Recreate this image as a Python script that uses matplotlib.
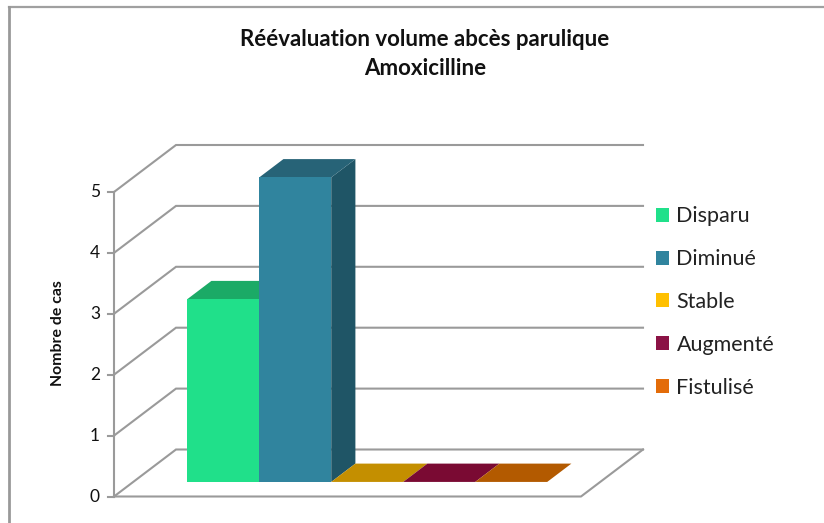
import matplotlib
matplotlib.use("Agg")
import matplotlib.pyplot as plt
from matplotlib.lines import Line2D
from matplotlib.patches import Polygon, Rectangle

title_lines = ["Réévaluation volume abcès parulique", "Amoxicilline"]
categories = ["Disparu", "Diminué", "Stable", "Augmenté", "Fistulisé"]
values = [3, 5, 0, 0, 0]
yticks = [0, 1, 2, 3, 4, 5]
ylabel = "Nombre de cas"
front_colors = ["#20E08A", "#30849E", "#FFC000", "#8B1245", "#E36C09"]
top_colors = ["#1BAA66", "#276377", "#C48F00", "#7A0A33", "#B35A00"]
side_colors = ["#179A5E", "#1F5566", "#A87A00", "#640828", "#964B00"]

W, H = 824, 523
plt.rcParams["font.family"] = ["Lato", "DejaVu Sans"]
fig = plt.figure(figsize=(W / 100, H / 100), dpi=100, facecolor="white")

# front plane of the pseudo-3D box, in pixels
L, R, Y0, Y5 = 114.0, 581.0, 496.5, 192.0
ax = fig.add_axes([L / W, 1 - Y0 / H, (R - L) / W, (Y0 - Y5) / H])
PX_X = 72.0                     # px per category
PX_Y = (Y0 - Y5) / 5            # px per unit
ax.set_xlim(0, (R - L) / PX_X)
ax.set_ylim(0, 5)
ax.axis("off")

DX, DY = 62.0 / PX_X, 47.0 / PX_Y   # data offset of the full depth


def p(x, y, d=0.0):
    return (x + d * DX, y + d * DY)


GRID = "#9A9A9A"
xmax = ax.get_xlim()[1]
for v in yticks:
    pts = [p(0, v), p(0, v, 1), p(xmax, v, 1)]
    ax.plot(*zip(*pts), color=GRID, lw=1.5, clip_on=False, zorder=1, solid_joinstyle="miter")
    ax.plot([-6 / PX_X, 0], [v, v], color=GRID, lw=1.5, clip_on=False, zorder=1)
    ax.text(-14 / PX_X, v, str(v), ha="right", va="center", fontsize=12.5,
            color="#111111", clip_on=False)
ax.plot([0, 0], [0, 5], color=GRID, lw=1.5, clip_on=False, zorder=1)
ax.plot(*zip(p(0, 0), p(xmax, 0), p(xmax, 0, 1)), color=GRID, lw=1.5, clip_on=False, zorder=1)

# bars
D0, D1 = 0.31, 0.70
X0 = 0.75
handles = []
for i, (c, v) in enumerate(zip(categories, values)):
    x0, x1 = X0 + i, X0 + i + 1
    xa, ya = p(x0, 0, D0)
    xb, _ = p(x1, 0, D0)
    if v > 0:
        ax.add_patch(Polygon([p(x1, 0, D0), p(x1, 0, D1), p(x1, v, D1), p(x1, v, D0)],
                             closed=True, fc=side_colors[i], ec="none", zorder=3 + i, clip_on=False))
    ax.add_patch(Polygon([p(x0, v, D0), p(x1, v, D0), p(x1, v, D1), p(x0, v, D1)],
                         closed=True, fc=top_colors[i], ec="none", zorder=3 + i, clip_on=False))
    ax.bar(xa, v, width=xb - xa, bottom=ya, align="edge", color=front_colors[i],
           lw=0, zorder=3 + i, clip_on=False)
    handles.append(Rectangle((0, 0), 1, 1, fc=front_colors[i], ec="none"))

fig.legend(handles, categories, loc="center left",
           bbox_to_anchor=(656 / W, 1 - 302 / H), frameon=False, fontsize=15.5,
           labelcolor="#222222", handlelength=0.62, handleheight=0.62,
           handletextpad=0.33, labelspacing=1.06, borderpad=0, borderaxespad=0)

fig.text(425 / W, 1 - 40 / H, title_lines[0], ha="center", va="center",
         fontsize=16, fontweight="bold", color="#111111")
fig.text(425 / W, 1 - 69 / H, title_lines[1], ha="center", va="center",
         fontsize=16, fontweight="bold", color="#111111")
fig.text(58 / W, 1 - 333 / H, ylabel, rotation=90, ha="center", va="center",
         fontsize=11.4, fontweight="bold", color="#111111")

# outer frame: only the top and left edges show
fig.add_artist(Line2D([9 / W, 1], [1 - 6.5 / H] * 2, transform=fig.transFigure, color="#A0A0A0", lw=1.6))
fig.add_artist(Line2D([9 / W, 9 / W], [1 - 6.5 / H, 0], transform=fig.transFigure, color="#999999", lw=2))
fig.savefig("out.png", dpi=100, facecolor="white")
